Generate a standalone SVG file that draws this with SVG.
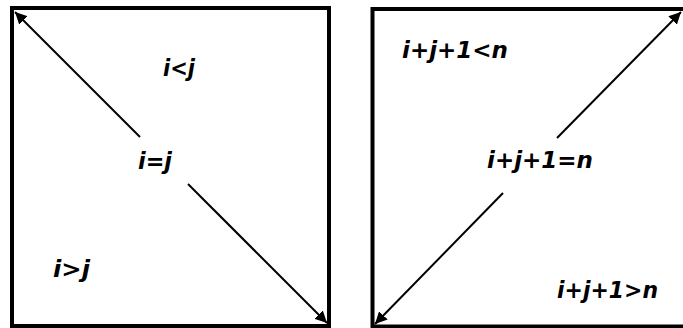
<svg xmlns="http://www.w3.org/2000/svg" width="683" height="328" viewBox="0 0 683 328">
<style>
.box{fill:#fff;stroke:#000;stroke-width:4}
.ln{stroke:#000;stroke-width:2;fill:none}
.t{font-family:"DejaVu Sans","Liberation Sans",sans-serif;font-weight:bold;font-style:italic;font-size:23px;fill:#000}
</style>
<defs>
<marker id="ah" viewBox="0 0 10 10" refX="10" refY="5" markerWidth="6" markerHeight="6" orient="auto-start-reverse">
<path d="M0,0 L10,5 L0,10 z" fill="#000"/>
</marker>
</defs>
<rect width="683" height="328" fill="#fff"/>
<g id="box1">
<rect class="box" x="12" y="8" width="317" height="318"/>
<text class="t" x="163" y="76" textLength="32" lengthAdjust="spacingAndGlyphs">i&lt;j</text>
<text class="t" x="138" y="169" textLength="34" lengthAdjust="spacingAndGlyphs">i=j</text>
<text class="t" x="53" y="277" textLength="37" lengthAdjust="spacingAndGlyphs">i&gt;j</text>
</g>
<g id="box2">
<rect class="box" x="372.5" y="9" width="320" height="317.5"/>
<text class="t" x="402" y="58" textLength="106" lengthAdjust="spacingAndGlyphs">i+j+1&lt;n</text>
<text class="t" x="487" y="168" textLength="106" lengthAdjust="spacingAndGlyphs">i+j+1=n</text>
<text class="t" x="557" y="298" textLength="101" lengthAdjust="spacingAndGlyphs">i+j+1&gt;n</text>
</g>
<g id="connectors">
<line class="ln" x1="140" y1="137" x2="15" y2="12" marker-end="url(#ah)"/>
<line class="ln" x1="188" y1="184" x2="327" y2="323" marker-end="url(#ah)"/>
<line class="ln" x1="557" y1="138" x2="681" y2="12" marker-end="url(#ah)"/>
<line class="ln" x1="503" y1="193" x2="375" y2="324" marker-end="url(#ah)"/>
</g>
</svg>
